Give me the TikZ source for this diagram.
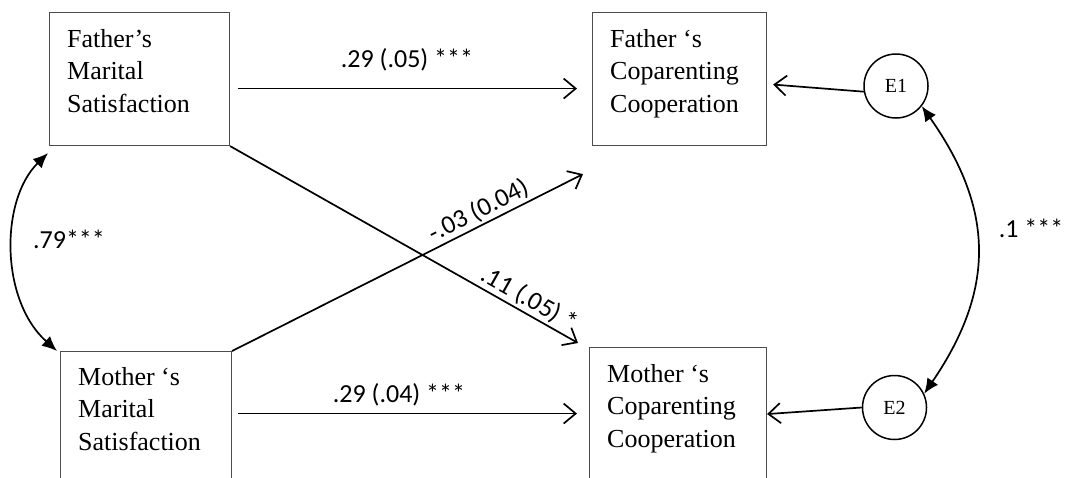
\documentclass[tikz,border=0pt]{standalone}
\usepackage{fontspec}
\setmainfont{Liberation Serif}
\newfontfamily\lblfont{Carlito}
\usetikzlibrary{arrows.meta,calc}
\begin{document}
\begin{tikzpicture}[x=1pt,y=-1pt,
  box/.style={draw=black!70, line width=1.1pt, inner sep=0pt, anchor=north west, minimum height=133pt},
  boxtext/.style={inner sep=0pt, anchor=north west, align=left, font=\fontsize{26}{32.5}\selectfont},
  ecirc/.style={circle, draw, line width=1.5pt, minimum size=64pt, inner sep=0pt, font=\fontsize{20}{24}\selectfont},
  lbl/.style={font=\lblfont\fontsize{26}{30}\selectfont, inner sep=2pt},
  openarrow/.style={line width=1.7pt, -{Straight Barb[length=12pt,width=20pt,line width=1.7pt]}},
  dblarrow/.style={line width=1.7pt, {Latex[length=15pt,width=13pt]}-{Latex[length=15pt,width=13pt]}}
]
\useasboundingbox (0,0) rectangle (1075,477);
\clip (0,0) rectangle (1075,477);

% boxes
\node[box, minimum width=180pt] (FM) at (49,12) {};
\node[box, minimum width=174pt] (FC) at (592,12) {};
\node[box, minimum width=171pt] (MM) at (60,351) {};
\node[box, minimum width=177pt] (MC) at (589,347) {};

\node[boxtext] (FMt) at (67,29) {Father’s\\Marital\\Satisfaction};
\node[boxtext] (FCt) at (610,29) {Father ‘s\\Coparenting\\Cooperation};
\node[boxtext] (MMt) at (78,367) {Mother ‘s\\Marital\\Satisfaction};
\node[boxtext] (MCt) at (607,364) {Mother ‘s\\Coparenting\\Cooperation};

% error terms
\node[ecirc] (E1) at (896,86) {E1};
\node[ecirc] (E2) at (894.5,407.5) {E2};

% paths
\draw[openarrow] ($(FM.east)+(8,9.5)$) -- ($(FC.west)+(-15,9.5)$);
\draw[openarrow] ($(MM.east)+(6,-4.5)$) -- ($(MC.west)+(-12,-0.5)$);
\draw[openarrow] (FM.south east) -- ($(MC.north west)+(-11,-4)$)
  node[lbl, sloped, above, pos=0.84] (L3) {.11 (.05) *};
\draw[openarrow] (MM.north east) -- ($(FC.south west)+(-9,28)$)
  node[lbl, sloped, above, pos=0.72] (L4) {-.03 (0.04)};
\draw[openarrow] (E1.190) -- ($(FC.east)+(6,5.5)$);
\draw[openarrow] (E2.west) -- (MC.east);

\node[lbl, anchor=base] (L1) at (407,67) {.29 (.05) ***};
\node[lbl, anchor=base] (L2) at (399,402) {.29 (.04) ***};

% covariances
\coordinate (t1) at ($(FM.south west)+(-1,7)$);
\coordinate (t2) at ($(MM.north west)+(-3,0)$);
\draw[dblarrow] (t1) .. controls (0,200) and (0,300) .. (t2);
\node[lbl, anchor=base] (L5) at (69,248) {.79***};

\draw[dblarrow] (E1.-38) .. controls (995,210) and (995,290) .. (E2.25);
\node[lbl, anchor=base] (L6) at (1031,237) {.1 ***};
\end{tikzpicture}
\end{document}
